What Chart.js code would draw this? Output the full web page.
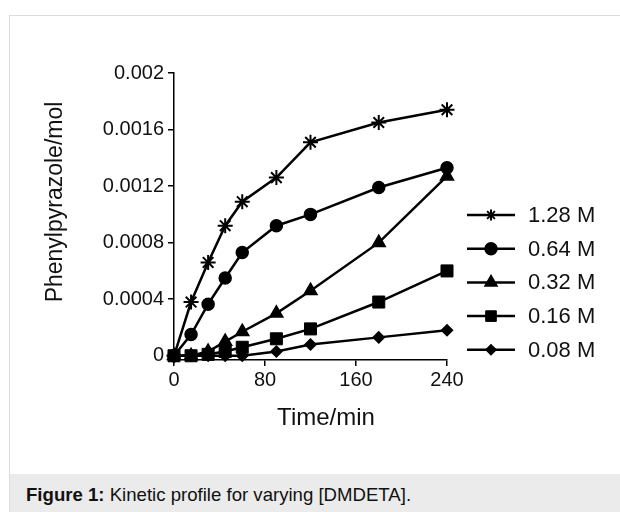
<!DOCTYPE html>
<html><head><meta charset="utf-8">
<script src="https://cdn.jsdelivr.net/npm/chart.js@4.4.1/dist/chart.umd.min.js"></script>
<style>
html,body{margin:0;padding:0;background:#fff;width:620px;height:512px;overflow:hidden;font-family:'Liberation Sans',Arial,sans-serif}
#frame{position:absolute;left:9px;top:15px;width:640px;height:520px;border:1px solid #dcdcdc;box-sizing:border-box}
#cap{position:absolute;left:10px;top:474px;width:640px;height:60px;background:#ebebeb}
#capText{position:absolute;left:26px;top:484px;font-size:18.6px;line-height:22px;color:#111;white-space:nowrap}
canvas{position:absolute;left:0;top:0}
</style></head><body>
<div id="frame"></div><div id="cap"></div>
<div id="capText"><b>Figure 1:</b> Kinetic profile for varying [DMDETA].</div>
<canvas id="c" width="620" height="512"></canvas>
<script>
// ---- data ----
const times = [0, 15, 30, 45, 60, 90, 120, 180, 240];
const seriesLabels = ['1.28 M', '0.64 M', '0.32 M', '0.16 M', '0.08 M'];
const conc128 = [0, 0.00038, 0.00066, 0.00092, 0.00109, 0.00126, 0.00151, 0.00165, 0.00174];
const conc064 = [0, 0.00015, 0.000365, 0.00055, 0.00073, 0.00092, 0.00100, 0.00119, 0.00133];
const conc032 = [0, 0, 0.00003, 0.00010, 0.00017, 0.00030, 0.00046, 0.00080, 0.00127];
const conc016 = [0, 0, 0.00001, 0.00003, 0.00006, 0.00012, 0.00019, 0.00038, 0.00060];
const conc008 = [0, 0, 0, 0, 0, 0.00003, 0.00008, 0.00013, 0.00018];
const xTickValues = [0, 80, 160, 240];
const xTickLabels = ['0', '80', '160', '240'];
const yTickValues = [0, 0.0004, 0.0008, 0.0012, 0.0016, 0.002];
const yTickLabels = ['0', '0.0004', '0.0008', '0.0012', '0.0016', '0.002'];
const xTitle = 'Time/min';
const yTitle = 'Phenylpyrazole/mol';

const allSeries = [conc128, conc064, conc032, conc016, conc008];
const pointStyles = ['star', 'circle', 'triangle', 'rect', 'rectRot'];
const pointRadii = [7.5, 6, 7.5, 8.5, 5.5];
const pointBorders = [2, 1.5, 1.5, 1, 1.5];
const legendRadii = [5.5, 6, 7, 7.5, 5];

const FONT = "'Liberation Sans', Arial, sans-serif";
Chart.defaults.font.family = FONT;
Chart.defaults.color = '#111';

const datasets = allSeries.map((arr, i) => ({
  label: seriesLabels[i],
  data: times.map((t, j) => ({ x: t, y: arr[j] })),
  borderColor: '#000',
  backgroundColor: '#000',
  borderWidth: 2.5,
  pointStyle: pointStyles[i],
  pointRadius: pointRadii[i],
  pointBorderWidth: pointBorders[i],
  pointBackgroundColor: '#000',
  pointBorderColor: '#000',
  tension: 0,
  clip: false
}));

const sideLegend = {
  id: 'sideLegend',
  afterDatasetsDraw(chart) {
    const ctx = chart.ctx;
    const x0 = 467, x1 = 515, tx = 528;
    chart.data.datasets.forEach((ds, i) => {
      const y = 215 + i * 33.7;
      ctx.save();
      ctx.strokeStyle = '#000';
      ctx.lineWidth = 2.5;
      ctx.beginPath();
      ctx.moveTo(x0, y);
      ctx.lineTo(x1, y);
      ctx.stroke();
      ctx.fillStyle = '#000';
      ctx.lineWidth = ds.pointBorderWidth;
      if (Chart.helpers && Chart.helpers.drawPoint) {
        Chart.helpers.drawPoint(ctx, { pointStyle: ds.pointStyle, radius: legendRadii[i], rotation: 0, borderWidth: ds.pointBorderWidth }, (x0 + x1) / 2, y);
      }
      ctx.fillStyle = '#111';
      ctx.font = '22px ' + FONT;
      ctx.textAlign = 'left';
      ctx.textBaseline = 'middle';
      ctx.fillText(ds.label, tx, y + 1);
      ctx.restore();
    });
  }
};

const axisTitles = {
  id: 'axisTitles',
  afterDraw(chart) {
    const ctx = chart.ctx;
    ctx.save();
    ctx.fillStyle = '#111';
    ctx.textAlign = 'center';
    ctx.textBaseline = 'middle';
    ctx.font = '24px ' + FONT;
    ctx.fillText(xTitle, 326, 418);
    ctx.translate(56, 202);
    ctx.rotate(-Math.PI / 2);
    ctx.font = '23px ' + FONT;
    ctx.fillText(yTitle, 0, 0);
    ctx.restore();
  }
};

new Chart(document.getElementById('c'), {
  type: 'line',
  data: { datasets },
  options: {
    responsive: false,
    animation: false,
    devicePixelRatio: 1,
    layout: { padding: { left: 0, top: 73, right: 173, bottom: 79.6 } },
    plugins: { legend: { display: false }, tooltip: { enabled: false } },
    scales: {
      x: {
        type: 'linear',
        min: 0, max: 240,
        afterBuildTicks: s => { s.ticks = xTickValues.map(v => ({ value: v })); },
        afterFit: s => { s.height = 72.4; },
        ticks: {
          padding: 2,
          font: { size: 20 },
          color: '#111',
          maxRotation: 0,
          callback: (v) => xTickLabels[xTickValues.indexOf(v)]
        },
        grid: { drawOnChartArea: false, drawTicks: true, tickLength: 6, color: '#000', lineWidth: 1.5 },
        border: { display: true, color: '#000', width: 1.5 },
        title: { display: false, text: xTitle }
      },
      y: {
        type: 'linear',
        min: -0.00003, max: 0.002,
        afterBuildTicks: s => { s.ticks = yTickValues.map(v => ({ value: v })); },
        afterFit: s => { s.width = 174; },
        ticks: {
          padding: 4,
          font: { size: 20 },
          color: '#111',
          callback: (v) => yTickLabels[yTickValues.indexOf(v)]
        },
        grid: { drawOnChartArea: false, drawTicks: true, tickLength: 6, color: '#000', lineWidth: 1.5 },
        border: { display: true, color: '#000', width: 1.5 },
        title: { display: false, text: yTitle }
      }
    }
  },
  plugins: [sideLegend, axisTitles]
});
</script>
</body></html>
